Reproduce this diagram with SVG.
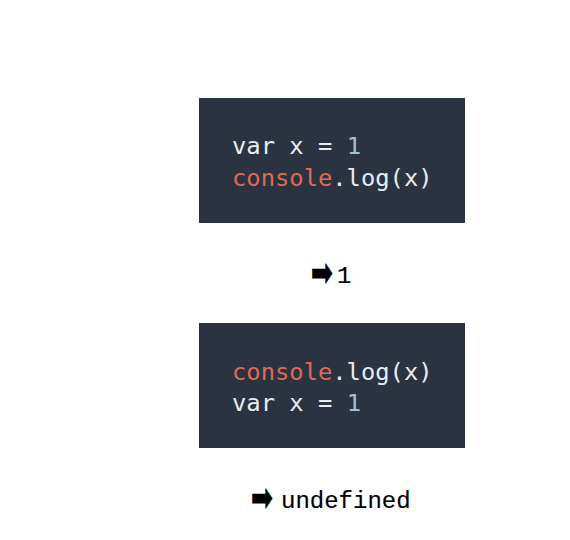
<svg xmlns="http://www.w3.org/2000/svg" width="570" height="540" viewBox="0 0 570 540">
<style>
.box{fill:#2b3341}
.code{font-family:"DejaVu Sans Mono",monospace;font-size:23.8px;fill:#e9edf0}
.kw{fill:#de6b55}
.num{fill:#9fc3d6}
.out{font-family:"Liberation Mono",monospace;font-size:24px;fill:#000;stroke:#000;stroke-width:0.15}
.arr{font-family:"DejaVu Sans",sans-serif;font-size:26px;fill:#000;stroke:#000;stroke-width:0.6}
</style>
<rect width="570" height="540" fill="#fff"/>
<g id="code1">
<rect class="box" x="199" y="98" width="266" height="125"/>
<text class="code" x="232" y="154" xml:space="preserve">var x = <tspan class="num">1</tspan></text>
<text class="code" x="232" y="186"><tspan class="kw">console</tspan>.log(x)</text>
</g>
<g id="out1">
<text class="arr" transform="translate(311,275) scale(1,1.5)" y="7">➡</text>
<text class="out" x="337" y="283">1</text>
</g>
<g id="code2">
<rect class="box" x="199" y="323" width="266" height="125"/>
<text class="code" x="232" y="380"><tspan class="kw">console</tspan>.log(x)</text>
<text class="code" x="232" y="411" xml:space="preserve">var x = <tspan class="num">1</tspan></text>
</g>
<g id="out2">
<text class="arr" transform="translate(251,500) scale(1,1.5)" y="7">➡</text>
<text class="out" x="281" y="508">undefined</text>
</g>
<g id="connectors"></g>
</svg>
